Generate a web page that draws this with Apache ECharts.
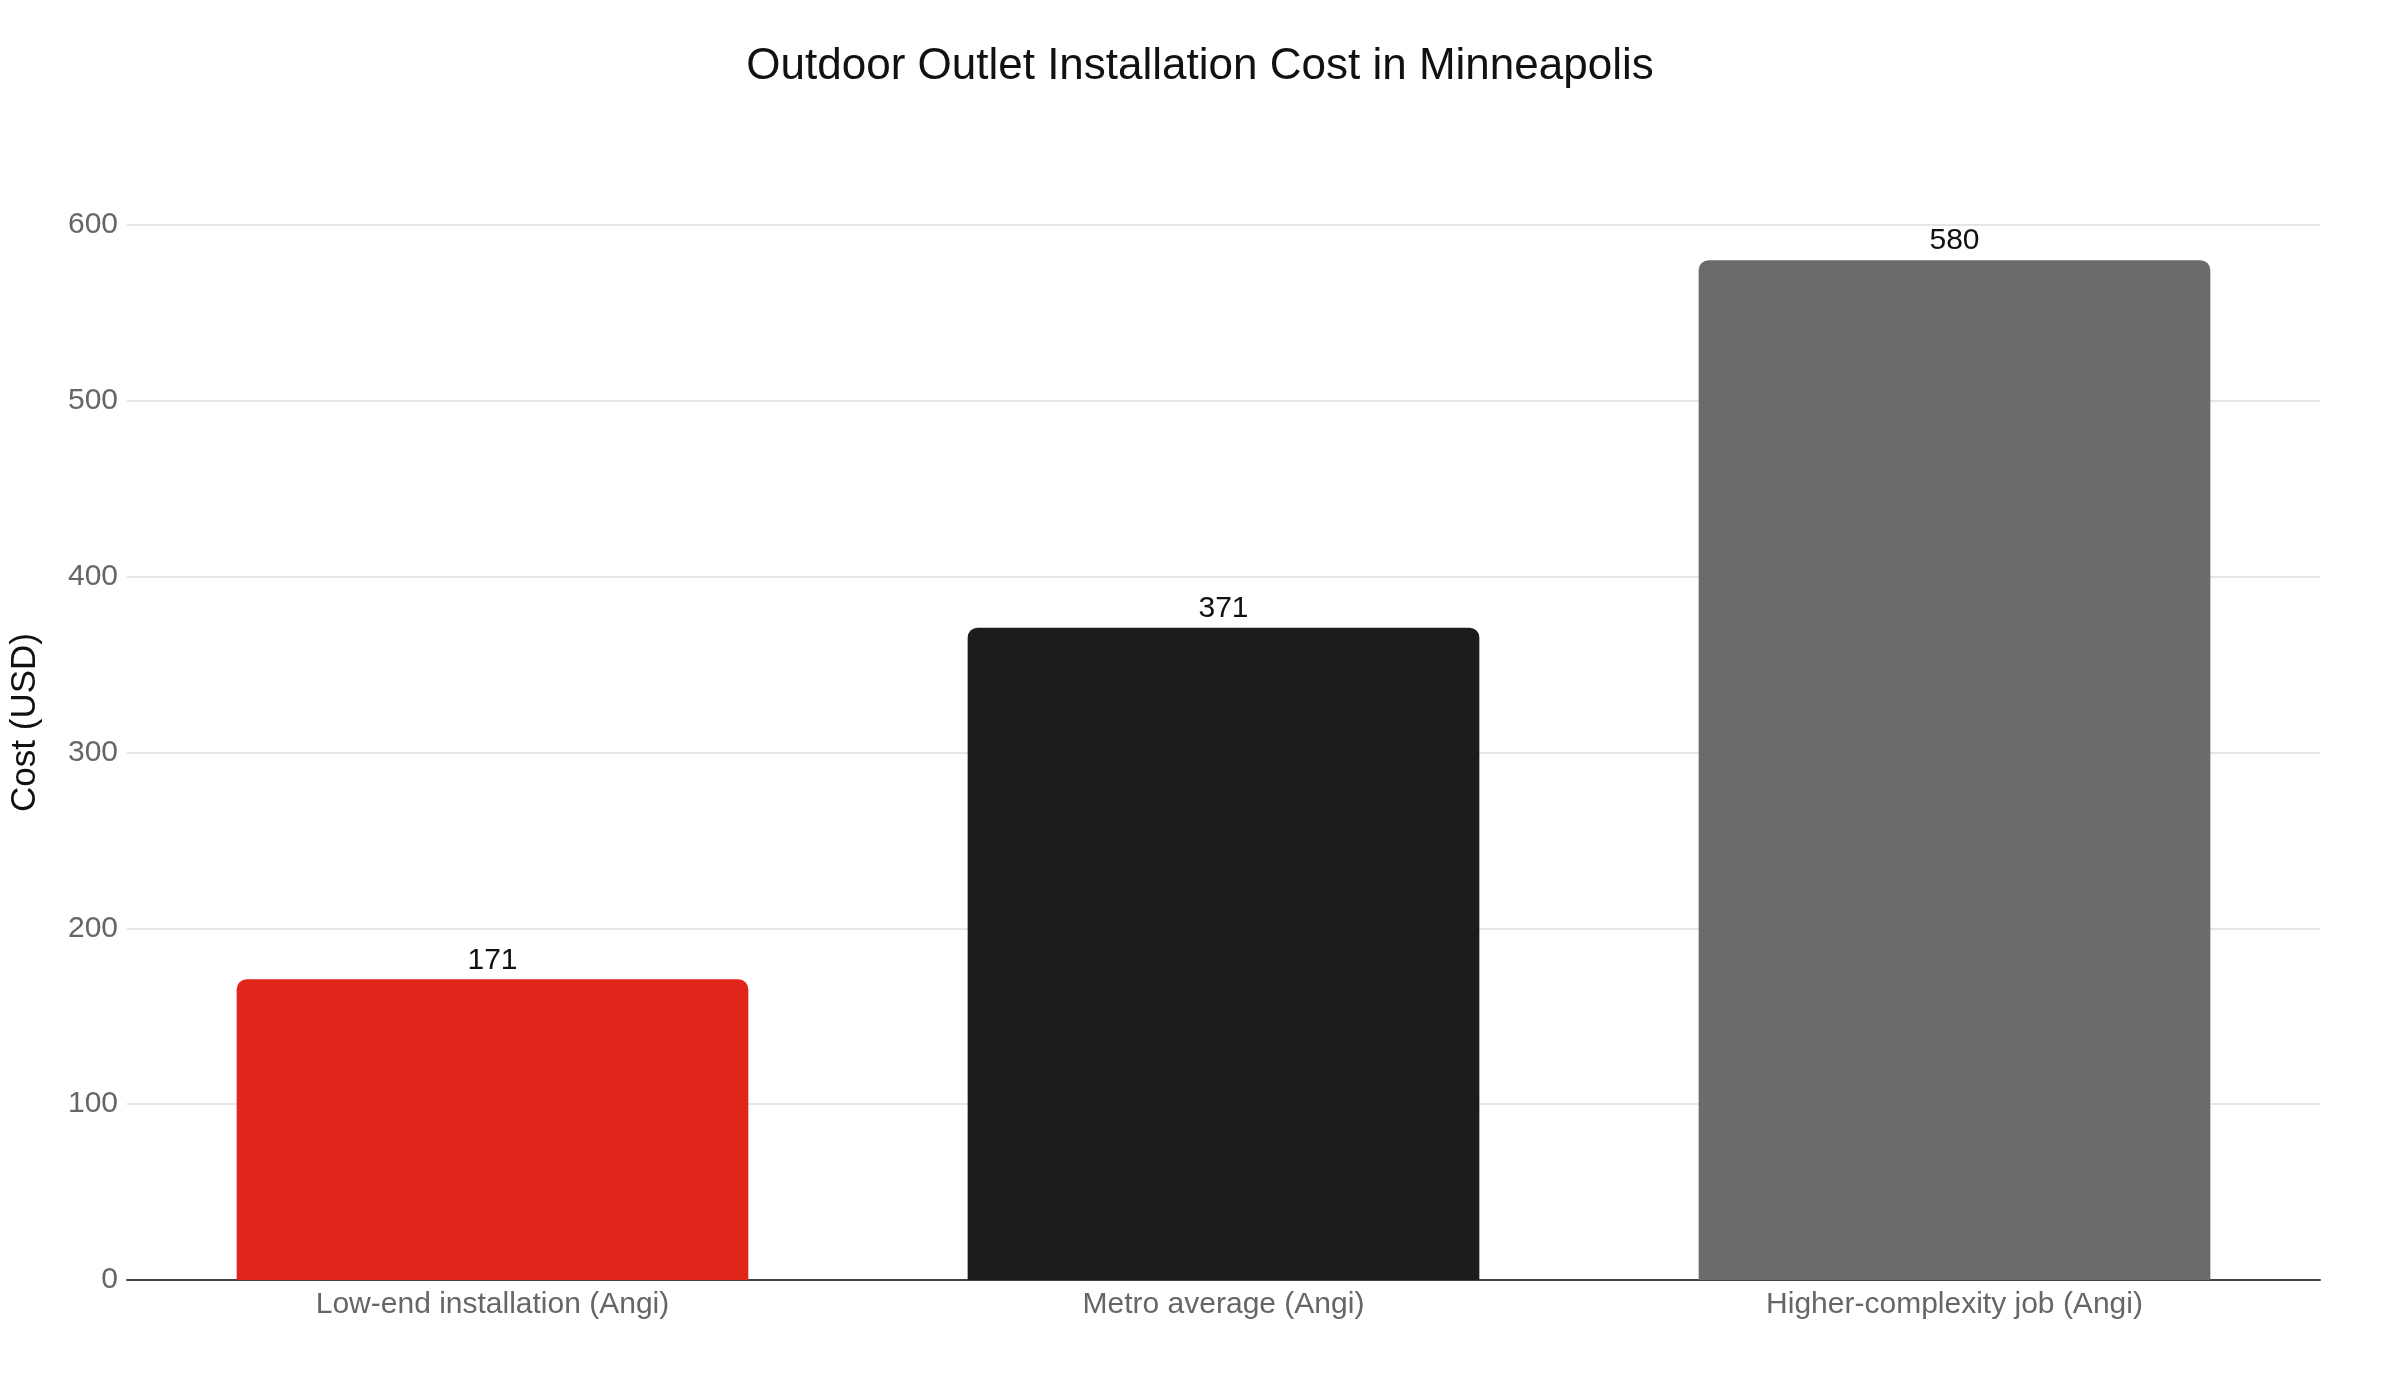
<!DOCTYPE html>
<html>
<head>
<meta charset="utf-8">
<script src="https://cdn.jsdelivr.net/npm/echarts@6/dist/echarts.min.js"></script>
<style>html,body{margin:0;padding:0;background:#fff}#c{width:2400px;height:1400px}</style>
</head>
<body>
<div id="c"></div>
<script>
const categories = ["Low-end installation (Angi)", "Metro average (Angi)", "Higher-complexity job (Angi)"];
const values = [171, 371, 580];
const barColors = ["#E0251B", "#1C1C1C", "#6B6B6B"];
const yTicks = { min: 0, max: 600, interval: 100 };

const chart = echarts.init(document.getElementById('c'), null, { renderer: 'canvas' });
chart.setOption({
  backgroundColor: '#ffffff',
  animation: false,
  title: {
    text: 'Outdoor Outlet Installation Cost in Minneapolis',
    left: 'center', top: 40,
    textStyle: { fontFamily: 'Liberation Sans', fontSize: 44, fontWeight: 'normal', color: '#111' }
  },
  grid: { left: 120, right: 80, top: 225, bottom: 120, containLabel: false },
  xAxis: {
    type: 'category',
    data: categories,
    axisLine: { show: true, lineStyle: { color: '#444', width: 2 } },
    axisTick: { show: false },
    axisLabel: { fontFamily: 'Liberation Sans', fontSize: 30, color: '#666', margin: 10 }
  },
  yAxis: {
    type: 'value',
    min: yTicks.min, max: yTicks.max, interval: yTicks.interval,
    name: 'Cost (USD)',
    nameLocation: 'middle',
    nameGap: 84,
    nameTextStyle: { fontFamily: 'Liberation Sans', fontSize: 35, color: '#111', padding: [0, 0, 0, 60] },
    axisLine: { show: false },
    axisTick: { show: false },
    axisLabel: { fontFamily: 'Liberation Sans', fontSize: 30, color: '#666', margin: 9 },
    splitLine: { lineStyle: { color: '#e6e6e6', width: 2 } }
  },
  series: [{
    type: 'bar',
    data: values.map((v, i) => ({ value: v, itemStyle: { color: barColors[i] } })),
    barCategoryGap: '30%',
    itemStyle: { borderRadius: [10, 10, 0, 0] },
    label: {
      show: true, position: 'top', distance: 4,
      fontFamily: 'Liberation Sans', fontSize: 30, color: '#111'
    }
  }]
});
</script>
</body>
</html>
